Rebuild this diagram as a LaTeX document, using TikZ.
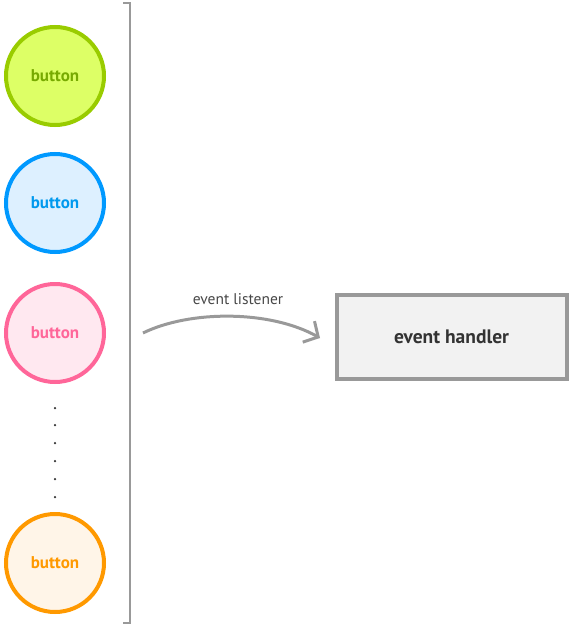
\documentclass[tikz,border=0pt]{standalone}
\usepackage{fontspec}
\setmainfont{PT Sans}
\usetikzlibrary{arrows.meta}
\definecolor{gstroke}{HTML}{99CC00}
\definecolor{gfill}{HTML}{DDFF66}
\definecolor{gtext}{HTML}{77AA00}
\definecolor{bstroke}{HTML}{0099FF}
\definecolor{bfill}{HTML}{DDF0FF}
\definecolor{btext}{HTML}{0099EE}
\definecolor{pstroke}{HTML}{FF6699}
\definecolor{pfill}{HTML}{FFE8F0}
\definecolor{ptext}{HTML}{FF6699}
\definecolor{ostroke}{HTML}{FF9900}
\definecolor{ofill}{HTML}{FFF5E8}
\definecolor{otext}{HTML}{FF9900}
\definecolor{lgray}{HTML}{999999}
\definecolor{boxfill}{HTML}{F2F2F2}
\definecolor{darktext}{HTML}{333333}
\begin{document}
\begin{tikzpicture}[x=1pt,y=-1pt,
  btn/.style={circle,line width=4pt,minimum size=98pt,inner sep=0pt,font=\fontsize{17}{17}\selectfont\bfseries},
  dotmark/.style={circle,fill=darktext,inner sep=0pt,minimum size=2.5pt},
  handlerbox/.style={draw=lgray,fill=boxfill,line width=4pt,minimum width=230pt,minimum height=84pt,inner sep=0pt,text=darktext,font=\fontsize{19.5}{19.5}\selectfont\bfseries},
  conn/.style={draw=lgray,line width=3pt,-{Straight Barb[length=11pt,width=24pt]}}
]
\useasboundingbox (0,0) rectangle (570,626);
\node[btn,draw=gstroke,fill=gfill,text=gtext] (b1) at (55,76) {button};
\node[btn,draw=bstroke,fill=bfill,text=btext] (b2) at (55,203) {button};
\node[btn,draw=pstroke,fill=pfill,text=ptext] (b3) at (55,333) {button};
\node[btn,draw=ostroke,fill=ofill,text=otext] (b4) at (55,563) {button};
\foreach \i/\y in {1/408,2/425,3/443,4/461,5/479,6/497}
  \node[dotmark] (d\i) at (55,\y) {};
\coordinate (brt) at (123,3);
\coordinate (brtc) at (130,3);
\coordinate (brbc) at (130,623);
\coordinate (brb) at (123,623);
\draw[lgray,line width=2.5pt] (brt) -- (brtc) -- (brbc) -- (brb);
\node[handlerbox] (h) at (451.5,336.5) {event handler};
\coordinate (as) at (143,333);
\coordinate (ae) at (320,338);
\draw[conn] (as) .. controls (190,310) and (270,310) .. (ae);
\node[text=darktext!90,font=\fontsize{15.5}{15.5}\selectfont] (lbl) at (238,299) {event listener};
\end{tikzpicture}
\end{document}
